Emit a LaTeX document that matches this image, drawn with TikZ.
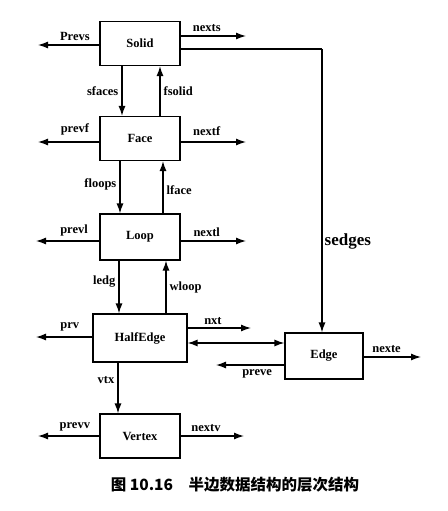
\documentclass[tikz,border=0pt]{standalone}
\usepackage{fontspec}
\setmainfont{Liberation Serif}
\newfontfamily\cjk{Noto Sans CJK SC}
\usetikzlibrary{arrows.meta}
\begin{document}
\begin{tikzpicture}[x=1pt,y=-1pt,
  box/.style={draw,line width=1.1pt,minimum width=80pt,minimum height=44pt,inner sep=0pt,font=\bfseries\fontsize{12.5}{14}\selectfont},
  arr/.style={line width=1.3pt,-{Latex[length=10pt,width=7pt]}},
  dbl/.style={line width=1.3pt,{Latex[length=10pt,width=7pt]}-{Latex[length=10pt,width=7pt]}},
  lbl/.style={inner sep=0pt,font=\bfseries\fontsize{12.5}{14}\selectfont}]
\useasboundingbox (0,0) rectangle (447,511);
\fill[white] (0,0) rectangle (447,511);
% boxes
\node[box] (solid) at (140,43.5) {Solid};
\node[box] (face) at (140,138.5) {Face};
\node[box,minimum height=46pt] (loop) at (140,237) {Loop};
\node[box,minimum width=94pt,minimum height=48pt] (he) at (140,338) {HalfEdge};
\node[box] (vertex) at (140,436) {Vertex};
\node[box,minimum width=78pt,minimum height=46pt] (edge) at (324,356) {Edge};
% free ends
\coordinate (sL) at (38,45);  \coordinate (sR) at (246,36);
\coordinate (fL) at (38,142); \coordinate (fR) at (246,142);
\coordinate (lL) at (36,241); \coordinate (lR) at (246,241);
\coordinate (hL) at (36,337); \coordinate (hR) at (251,328);
\coordinate (vL) at (38,436); \coordinate (vR) at (244,436);
\coordinate (eL) at (216,365); \coordinate (eR) at (421,357);
\coordinate (corner) at (322,49);
% Solid
\draw[arr] (solid.west|-sL) -- (sL) node[lbl,pos=0.4,above=4pt] {Prevs};
\draw[arr] (solid.east|-sR) -- (sR) node[lbl,pos=0.4,above=4pt] {nexts};
\draw[line width=1.1pt] (solid.east|-corner) -- (corner);
\draw[arr] (corner) -- (corner|-edge.north) node[pos=0.68,right=2pt,inner sep=0pt,font=\bfseries\fontsize{17}{19}\selectfont] {sedges};
\draw[arr] (solid.south-|122,0) -- (face.north-|122,0) node[lbl,midway,left=3pt] {sfaces};
\draw[arr] (face.north-|160,0) -- (solid.south-|160,0) node[lbl,midway,right=3pt] {fsolid};
% Face
\draw[arr] (face.west|-fL) -- (fL) node[lbl,pos=0.4,above=6pt] {prevf};
\draw[arr] (face.east|-fR) -- (fR) node[lbl,pos=0.4,above=6pt] {nextf};
\draw[arr] (face.south-|120,0) -- (loop.north-|120,0) node[lbl,pos=0.45,left=3pt] {floops};
\draw[arr] (loop.north-|163,0) -- (face.south-|163,0) node[lbl,pos=0.45,right=3pt] {lface};
% Loop
\draw[arr] (loop.west|-lL) -- (lL) node[lbl,pos=0.4,above=4pt] {prevl};
\draw[arr] (loop.east|-lR) -- (lR) node[lbl,pos=0.4,above=4pt] {nextl};
\draw[arr] (loop.south-|119,0) -- (he.north-|119,0) node[lbl,pos=0.4,left=3pt] {ledg};
\draw[arr] (he.north-|166,0) -- (loop.south-|166,0) node[lbl,pos=0.5,right=3pt] {wloop};
% HalfEdge
\draw[arr] (he.west|-hL) -- (hL) node[lbl,pos=0.4,above=5pt] {prv};
\draw[arr] (he.east|-hR) -- (hR) node[lbl,pos=0.4,above=3pt] {nxt};
\draw[dbl] (he.east|-0,343) -- (edge.west|-0,343);
\draw[arr] (he.south-|118,0) -- (vertex.north-|118,0) node[lbl,pos=0.35,left=3pt] {vtx};
% Vertex
\draw[arr] (vertex.west|-vL) -- (vL) node[lbl,pos=0.4,above=4pt] {prevv};
\draw[arr] (vertex.east|-vR) -- (vR) node[lbl,pos=0.4,above=4pt] {nextv};
% Edge
\draw[arr] (edge.west|-eL) -- (eL) node[lbl,pos=0.4,below=4pt] {preve};
\draw[arr] (edge.east|-eR) -- (eR) node[lbl,pos=0.4,above=4pt] {nexte};
% caption
\node[inner sep=0pt,font=\cjk\bfseries\fontsize{15.5}{18}\selectfont] (cap) at (235,485) {图 10.16\quad 半边数据结构的层次结构};
\end{tikzpicture}
\end{document}
